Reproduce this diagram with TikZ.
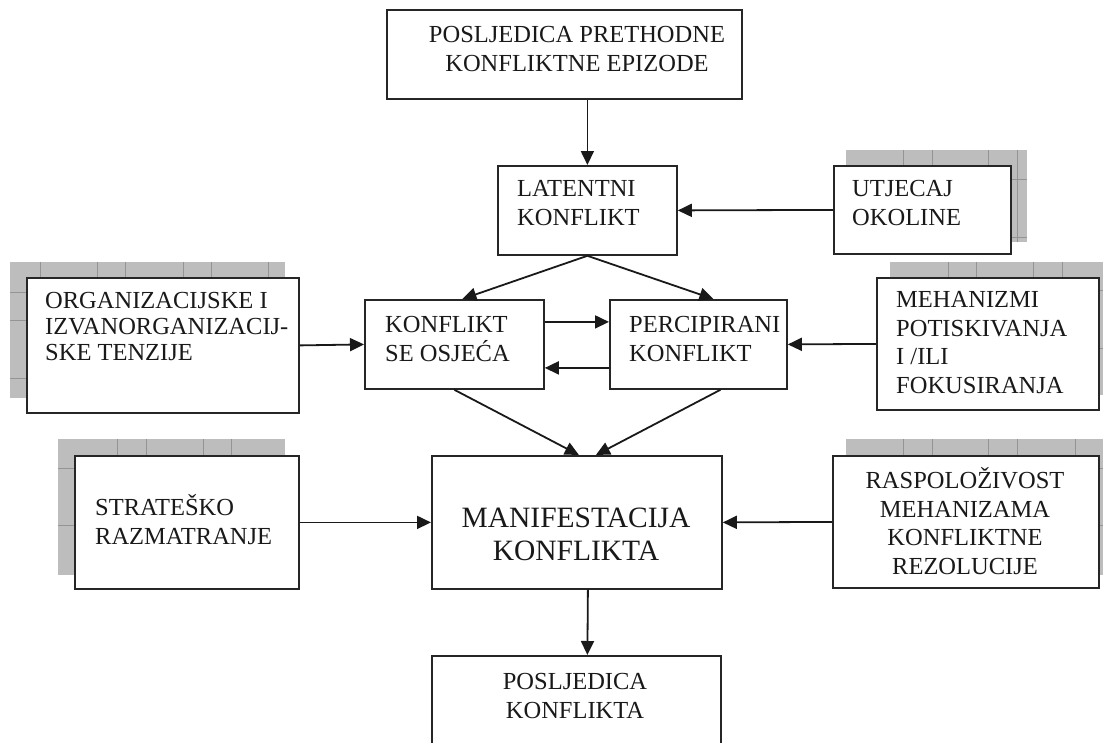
\documentclass[tikz,border=0pt]{standalone}
\usepackage{fontspec}
\setmainfont{Liberation Serif}
\usetikzlibrary{arrows.meta}
\begin{document}
\begin{tikzpicture}[x=1pt,y=-1pt,
 box/.style={draw=black!85,line width=1.8pt,fill=white,inner sep=0pt,anchor=north west},
 shad/.style={fill=black!26},
 gridline/.style={draw=black!42,line width=0.8pt},
 lbl/.style={font=\fontsize{24.5}{28.5}\selectfont,inner sep=0pt,align=left,anchor=base west,text=black!90},
 lblc/.style={font=\fontsize{24.5}{28.5}\selectfont,inner sep=0pt,align=center,anchor=base,text=black!90},
 lblbig/.style={font=\fontsize{29.5}{33}\selectfont,inner sep=0pt,align=center,anchor=base,text=black!90},
 arr/.style={line width=1.8pt,draw=black!90,-{Triangle[length=14pt,width=13pt]}}]
\useasboundingbox (0,0) rectangle (1103,742);
\clip (0,0) rectangle (1103,742);
% shadows
\fill[shad] (846,150) rectangle (1027,242);
\foreach \x in {903,932,988,1017} \draw[gridline] (\x,150) -- (\x,242);
\foreach \y in {179,237} \draw[gridline] (846,\y) -- (1027,\y);
\fill[shad] (10,262) rectangle (285,398);
\foreach \x in {40,97,125,183,211,268} \draw[gridline] (\x,262) -- (\x,398);
\foreach \y in {292,320,378} \draw[gridline] (10,\y) -- (285,\y);
\fill[shad] (890,262) rectangle (1110,395);
\foreach \x in {948,976,1033,1062} \draw[gridline] (\x,262) -- (\x,395);
\foreach \y in {290,348} \draw[gridline] (890,\y) -- (1110,\y);
\fill[shad] (58,439) rectangle (285,575);
\foreach \x in {117,146,203,231} \draw[gridline] (\x,439) -- (\x,575);
\foreach \y in {468,525} \draw[gridline] (58,\y) -- (285,\y);
\fill[shad] (846,439) rectangle (1110,575);
\foreach \x in {903,932,988,1017,1075} \draw[gridline] (\x,439) -- (\x,575);
\foreach \y in {468,525} \draw[gridline] (846,\y) -- (1110,\y);
% boxes
\node[box,minimum width=355pt,minimum height=89pt] (top) at (386,9) {};
\node[box,minimum width=179pt,minimum height=89pt] (lat) at (497,165) {};
\node[box,minimum width=177pt,minimum height=88pt] (utj) at (833,165) {};
\node[box,minimum width=272pt,minimum height=135pt] (org) at (26,277) {};
\node[box,minimum width=179pt,minimum height=89pt] (kse) at (364,299) {};
\node[box,minimum width=177pt,minimum height=89pt] (perc) at (609,299) {};
\node[box,minimum width=222pt,minimum height=132pt] (meh) at (876,277) {};
\node[box,minimum width=224pt,minimum height=133pt] (strat) at (74,455) {};
\node[box,minimum width=290pt,minimum height=133pt] (man) at (431,455) {};
\node[box,minimum width=266pt,minimum height=132pt] (rasp) at (832,455) {};
\node[box,minimum width=289pt,minimum height=130pt] (posl) at (431,655) {};
% texts (anchor = baseline of last line)
\node[lblc] (ttop) at (577,71) {POSLJEDICA PRETHODNE\\KONFLIKTNE EPIZODE};
\node[lbl] (tlat) at (517,225) {LATENTNI\\KONFLIKT};
\node[lbl] (tutj) at (852,225) {UTJECAJ\\OKOLINE};
\node[lbl,font=\fontsize{24.5}{26}\selectfont] (torg) at (45,360) {ORGANIZACIJSKE I\\IZVANORGANIZACIJ-\\SKE TENZIJE};
\node[lbl] (tkse) at (385,361) {KONFLIKT\\SE OSJEĆA};
\node[lbl] (tperc) at (629,361) {PERCIPIRANI\\KONFLIKT};
\node[lbl] (tmeh) at (896,393) {MEHANIZMI\\POTISKIVANJA\\I /ILI\\FOKUSIRANJA};
\node[lbl] (tstrat) at (95,544) {STRATEŠKO\\RAZMATRANJE};
\node[lblbig] (tman) at (576,560) {MANIFESTACIJA\\KONFLIKTA};
\node[lblc] (trasp) at (965,574) {RASPOLOŽIVOST\\MEHANIZAMA\\KONFLIKTNE\\REZOLUCIJE};
\node[lblc] (tposl) at (575,718) {POSLJEDICA\\KONFLIKTA};
% arrows
\draw[arr] (lat.north |- top.south) -- (lat.north);
\draw[arr] (utj.west) -- (lat.east);
\draw[arr] (lat.south) -- ([xshift=8pt]kse.north);
\draw[arr] (lat.south) -- ([xshift=15pt]perc.north);
\draw[arr] (org.east) -- (kse.west);
\draw[arr] ([yshift=22.5pt]kse.east) -- ([yshift=22.5pt]perc.west);
\draw[arr] ([yshift=-23.5pt]perc.west) -- ([yshift=-23.5pt]kse.east);
\draw[arr] (meh.west) -- (perc.east);
\draw[arr] (kse.south) -- ([xshift=2pt]man.north);
\draw[arr] ([xshift=22pt]perc.south) -- ([xshift=19pt]man.north);
\draw[arr] (strat.east) -- (man.west);
\draw[arr] (rasp.west) -- (man.east);
\draw[arr] ([xshift=11pt]man.south) -- ([xshift=11pt]posl.north);
\end{tikzpicture}
\end{document}
